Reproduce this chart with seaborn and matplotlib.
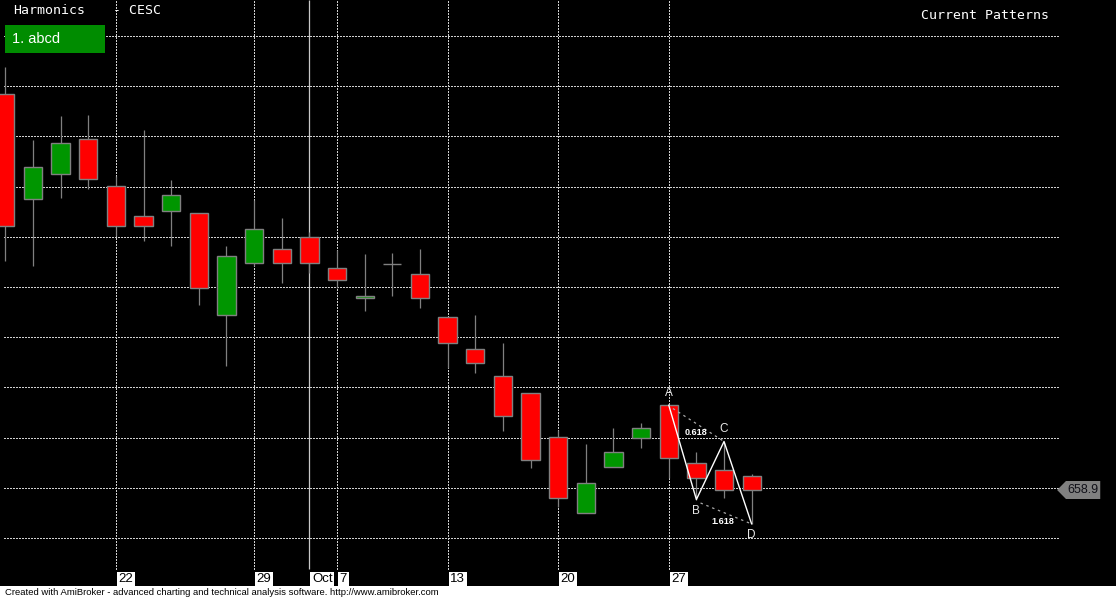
import numpy as np
import pandas as pd
import matplotlib
matplotlib.use("Agg")
import matplotlib.pyplot as plt
from matplotlib.patches import Polygon, Rectangle
from matplotlib.transforms import blended_transform_factory
import seaborn as sns

# CESC daily bars, 16 Sep - 30 Oct 2014
dates = ["2014-09-16", "2014-09-17", "2014-09-18", "2014-09-19", "2014-09-22",
         "2014-09-23", "2014-09-24", "2014-09-25", "2014-09-26", "2014-09-29",
         "2014-09-30", "2014-10-01", "2014-10-07", "2014-10-08", "2014-10-09",
         "2014-10-10", "2014-10-13", "2014-10-14", "2014-10-16", "2014-10-17",
         "2014-10-20", "2014-10-21", "2014-10-22", "2014-10-23", "2014-10-27",
         "2014-10-28", "2014-10-29", "2014-10-30"]
opens = [738.0, 717.0, 722.0, 729.0, 719.6, 713.6, 714.6, 714.2, 694.0, 704.4,
         707.0, 709.4, 703.4, 697.2, 704.0, 702.0, 693.4, 687.0, 681.8, 678.4,
         669.4, 654.4, 663.6, 669.2, 675.9, 664.4, 663.0, 661.8]
highs = [743.4, 728.9, 733.7, 733.9, 721.7, 730.9, 720.9, 714.2, 707.7, 716.9,
         713.3, 710.5, 706.9, 706.1, 706.3, 707.1, 693.4, 693.9, 688.3, 678.4,
         670.9, 668.1, 671.3, 672.4, 675.9, 666.6, 668.6, 662.1]
lows = [704.6, 703.6, 717.2, 719.0, 709.6, 708.8, 707.8, 696.0, 683.8, 703.6,
        700.2, 702.4, 699.2, 694.8, 697.6, 695.2, 683.2, 682.4, 670.8, 663.2,
        655.6, 654.4, 663.6, 667.2, 661.2, 657.0, 657.2, 652.1]
closes = [711.7, 723.4, 728.2, 721.0, 711.8, 711.8, 717.8, 699.4, 705.6, 711.0,
          704.4, 704.2, 701.0, 697.7, 704.0, 697.2, 688.2, 684.4, 673.8, 665.0,
          657.2, 660.2, 666.6, 671.2, 665.2, 661.4, 659.0, 658.9]

# date axis
tick_idx = [4, 9, 11, 12, 16, 20, 24]
tick_labels = ["22", "29", "Oct", "7", "13", "20", "27"]
month_idx = [11]

# harmonic abcd pattern
pat_idx = [24, 25, 26, 27]
pat_names = ["A", "B", "C", "D"]
pat_ratios = ["0.618", "1.618"]

sns.set_style("dark")
plt.rcParams['font.family'] = ['Liberation Sans', 'DejaVu Sans']

df = pd.DataFrame({'date': pd.to_datetime(dates), 'open': opens, 'high': highs,
                   'low': lows, 'close': closes})
df['x'] = np.arange(len(df))
df['up'] = df['close'] > df['open']

W, H = 1116, 599
fig = plt.figure(figsize=(W / 100, H / 100), dpi=100, facecolor='white')
ax = fig.add_axes([0, 13 / H, 1, 586 / H])
ax.set_facecolor('black')
ax.set_xticks([])
ax.set_yticks([])
for s in ax.spines.values():
    s.set_visible(False)
ax.set_xlim(-0.192, 40.18)
ax.set_ylim(639.7, 756.9)

# grid (dotted, crisp pixels)
grid_levels = np.linspace(649.3, 749.7, 11)
dots = [(0, (1.5, 1.5))]
ax.hlines(grid_levels, -0.05, 38.07, colors='#d0d0d0', linewidth=0.72,
          linestyles=dots, antialiased=False, zorder=1)
week_idx = [i for i in tick_idx if i not in month_idx]
ax.vlines(week_idx, 643.1, 756.9, colors='#d0d0d0', linewidth=0.72,
          linestyles=dots, antialiased=False, zorder=1)
ax.vlines(month_idx, 643.1, 756.9, colors='#c8c8c8', linewidth=0.9, zorder=1)

# candles
ax.vlines(df['x'], df['low'], df['high'], colors='#808080', linewidth=0.9, zorder=3)
body_lo = df[['open', 'close']].min(axis=1)
body_h = (df['close'] - df['open']).abs()
colors = np.where(df['up'], '#009600', np.where(body_h == 0, '#808080', '#ff0000'))
ax.bar(df['x'], body_h, bottom=body_lo, width=0.66, color=colors,
       edgecolor='#808080', linewidth=1.0, zorder=4)

# abcd pattern
pts = []
for k, i in enumerate(pat_idx):
    y = df['high'][i] if k % 2 == 0 else df['low'][i]
    pts.append((i, y))
pat = pd.DataFrame(pts, columns=['x', 'y'])
sns.lineplot(data=pat, x='x', y='y', sort=False, estimator=None, color='white',
             linewidth=1.0, ax=ax, zorder=5)
for a, b in [(0, 2), (1, 3)]:
    ax.plot([pat['x'][a] + 0.15, pat['x'][b]], [pat['y'][a] - 0.7, pat['y'][b]],
            color='#a8a8a8', linewidth=0.9, dashes=(2, 3), zorder=5)
for k, name in enumerate(pat_names):
    dy = 9 if k % 2 == 0 else -8
    ax.annotate(name, (pat['x'][k], pat['y'][k]), xytext=(0, dy),
                textcoords='offset points', ha='center', va='center',
                color='#e8e8e8', fontsize=8.5, zorder=6)
for r, (a, b) in zip(pat_ratios, [(0, 2), (1, 3)]):
    mx = (pat['x'][a] + pat['x'][b]) / 2
    my = (pat['y'][a] + pat['y'][b]) / 2
    ax.annotate(r, (mx, my), xytext=(-0.5, -7), textcoords='offset points',
                ha='center', va='center', color='white', fontsize=6.5,
                fontweight='bold', zorder=6)

# date labels
tr = blended_transform_factory(ax.transData, fig.transFigure)
for i, lab in zip(tick_idx, tick_labels):
    ax.text(i + 0.094, 1 - 579.5 / H, lab, transform=tr, ha='left', va='center',
            fontsize=9.5, color='black', zorder=7,
            bbox=dict(boxstyle='square,pad=0.12', fc='white', ec='none'))

# last price tag
last = df['close'].iloc[-1]
tag = Polygon([(38.05, last), (38.37, last + 1.8), (39.61, last + 1.8),
               (39.61, last - 1.8), (38.37, last - 1.8)], closed=True,
              fc='#808080', ec='none', zorder=6)
ax.add_patch(tag)
ax.text(38.99, last, f"{last:.1f}", ha='center', va='center', fontsize=9,
        color='#101018', zorder=7)

# header
fig.text(13 / W, 1 - 11 / H, "Harmonics", family='DejaVu Sans Mono', fontsize=9.5,
         color='white', ha='left', va='center')
fig.text(113 / W, 1 - 11 / H, "- CESC", family='DejaVu Sans Mono', fontsize=9.5,
         color='white', ha='left', va='center')
fig.text(1049 / W, 1 - 15.5 / H, "Current Patterns", family='DejaVu Sans Mono',
         fontsize=9.5, color='white', ha='right', va='center')
fig.add_artist(Rectangle((5 / W, 1 - 53 / H), 100 / W, 28 / H,
                         transform=fig.transFigure, fc='#008c00', ec='none'))
fig.text(12 / W, 1 - 39 / H, "1. abcd", fontsize=10.5, color='white',
         ha='left', va='center')

# footer
fig.text(5 / W, 6.5 / H, "Created with AmiBroker - advanced charting and technical "
         "analysis software. http://www.amibroker.com", fontsize=6.8, color='black',
         ha='left', va='center')

fig.savefig('out.png', dpi=100, facecolor='white')
